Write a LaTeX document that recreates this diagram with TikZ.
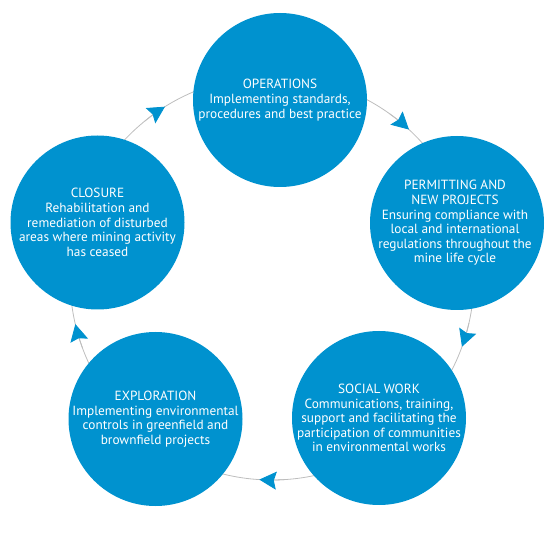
\documentclass[tikz,border=0pt]{standalone}
\usepackage{fontspec}
\setmainfont{PT Sans}
\usetikzlibrary{arrows.meta}
\definecolor{cblue}{HTML}{0092CF}
\definecolor{ringgray}{HTML}{BDBDBD}
\begin{document}
\begin{tikzpicture}[x=1pt,y=1pt,
  bubble/.style={circle, fill=cblue, minimum size=174pt, inner sep=0pt},
  txt/.style={text=white, align=center, inner sep=0pt, font=\fontsize{13.3}{14.6}\selectfont},
  ringline/.style={draw=ringgray, line width=0.8pt},
  flow/.style={ringline, -{Stealth[length=17pt,width=18pt,inset=2.5pt,color=cblue]}}]
\useasboundingbox (0,0) rectangle (550,542);
\coordinate (c) at (272,264);
\draw[ringline] (c) circle (202);
\node[bubble] (ops) at (280,442) {};
\node[bubble] (perm) at (457,319) {};
\node[bubble] (soc) at (379,124) {};
\node[bubble] (expl) at (155.5,123) {};
\node[bubble] (clos) at (97.5,319.5) {};
\foreach \a in {122,47.3,-19.9,-93.6,-166.8}
  \draw[flow] ([shift={(\a+7:202)}]c) arc[start angle=\a+7, end angle=\a, radius=202];
\node[txt] (opst) at (ops) {OPERATIONS\\Implementing standards,\\procedures and best practice};
\node[txt] (permt) at ([xshift=-2pt]perm) {PERMITTING AND\\NEW PROJECTS\\Ensuring compliance with\\local and international\\regulations throughout the\\mine life cycle};
\node[txt] (soct) at (soc) {SOCIAL WORK\\Communications, training,\\support and facilitating the\\participation of communities\\in environmental works};
\node[txt] (explt) at (expl) {EXPLORATION\\Implementing environmental\\controls in greenfield and\\brownfield projects};
\node[txt] (clost) at (clos) {CLOSURE\\Rehabilitation and\\remediation of disturbed\\areas where mining activity\\has ceased};
\end{tikzpicture}
\end{document}
